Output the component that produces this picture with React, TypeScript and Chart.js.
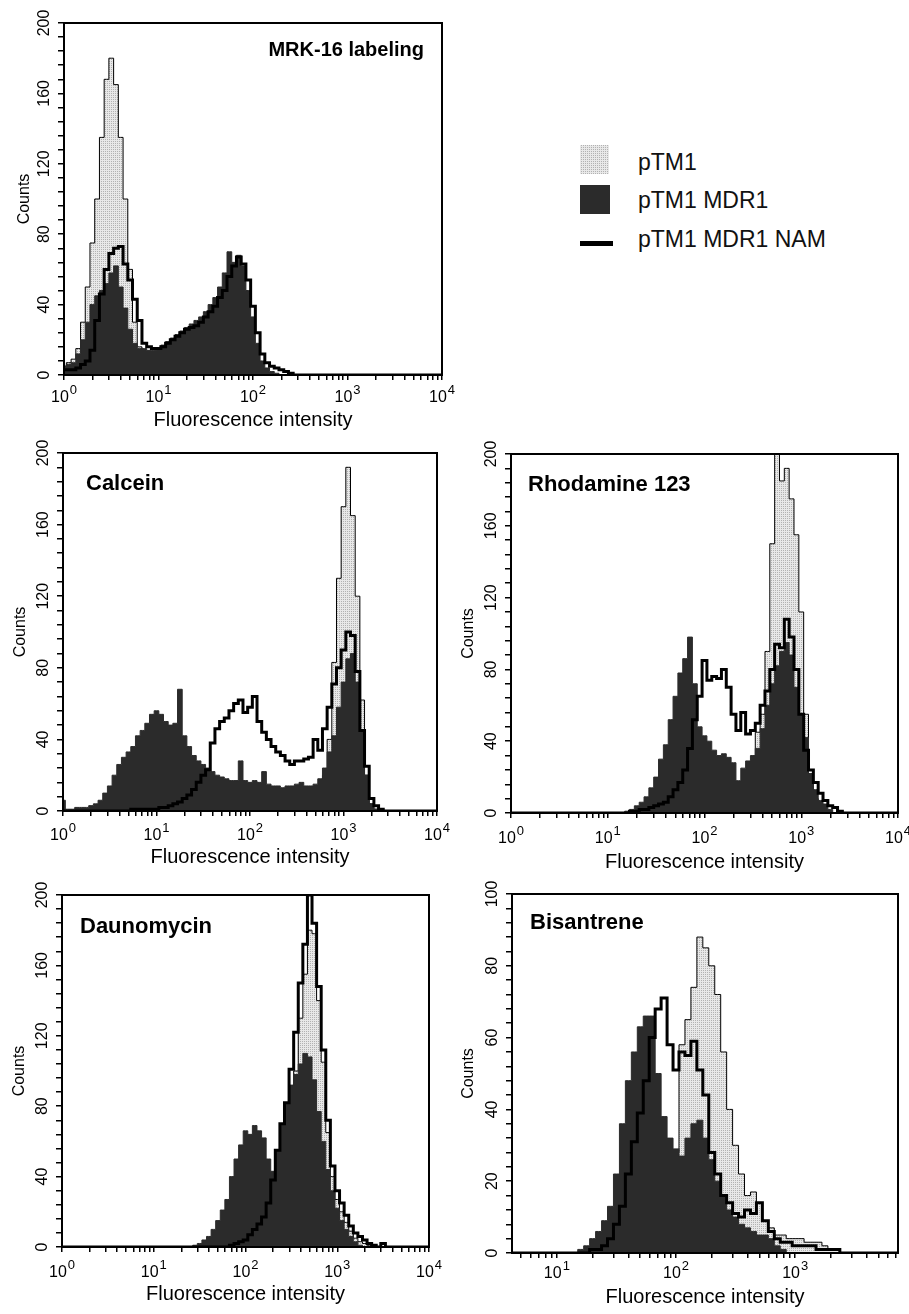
import React, { useEffect, useRef } from 'react';
import { Chart, registerables } from 'chart.js';

Chart.register(...registerables);

const FONT = '"Liberation Sans", Arial, Helvetica, sans-serif';
Chart.defaults.font.family = FONT;
Chart.defaults.color = '#000';

// ---------- data ----------
const SERIES = ['pTM1', 'pTM1 MDR1', 'pTM1 MDR1 NAM'];

// channel centres (fluorescence intensity), 20 per decade
const BINS = [1, 1.122, 1.259, 1.413, 1.585, 1.778, 1.995, 2.239, 2.512, 2.818,
  3.162, 3.548, 3.981, 4.467, 5.012, 5.623, 6.31, 7.079, 7.943, 8.913,
  10, 11.22, 12.59, 14.13, 15.85, 17.78, 19.95, 22.39, 25.12, 28.18,
  31.62, 35.48, 39.81, 44.67, 50.12, 56.23, 63.1, 70.79, 79.43, 89.13,
  100, 112.2, 125.9, 141.3, 158.5, 177.8, 199.5, 223.9, 251.2, 281.8,
  316.2, 354.8, 398.1, 446.7, 501.2, 562.3, 631, 707.9, 794.3, 891.3,
  1000, 1122, 1259, 1413, 1585, 1778, 1995, 2239, 2512, 2818,
  3162, 3548, 3981, 4467, 5012, 5623, 6310, 7079, 7943, 8913, 10000];

const X_TICKS_FULL = [1, 2, 3, 4, 5, 6, 7, 8, 9, 10, 20, 30, 40, 50, 60, 70, 80, 90,
  100, 200, 300, 400, 500, 600, 700, 800, 900, 1000, 2000, 3000, 4000, 5000, 6000, 7000, 8000, 9000, 10000];
const X_TICKS_BIS = [5, 6, 7, 8, 9, 10, 20, 30, 40, 50, 60, 70, 80, 90,
  100, 200, 300, 400, 500, 600, 700, 800, 900, 1000, 2000, 3000, 4000, 5000, 6000, 7000];
const X_LABEL_VALUES = [1, 10, 100, 1000, 10000];
const X_LABEL_BASE = '10';
const X_LABEL_EXP: Record<number, string> = { 1: '0', 10: '1', 100: '2', 1000: '3', 10000: '4' };

const Y_TICKS_200 = [0, 8, 16, 24, 32, 40, 48, 56, 64, 72, 80, 88, 96, 104, 112, 120, 128, 136, 144, 152, 160, 168, 176, 184, 192, 200];
const Y_LABELS_200 = [0, 40, 80, 120, 160, 200];
const Y_TICKS_100 = [0, 4, 8, 12, 16, 20, 24, 28, 32, 36, 40, 44, 48, 52, 56, 60, 64, 68, 72, 76, 80, 84, 88, 92, 96, 100];
const Y_LABELS_100 = [0, 20, 40, 60, 80, 100];

// MRK-16 labeling
const MRK_PTM1 = [5, 7, 9, 15, 30, 50, 75, 100, 135, 168,
  180, 165, 135, 100, 60, 30, 16, 10, 7, 5,
  4, 3, 2, 1, 1, 0, 0, 0, 0, 0,
  0, 0, 0, 0, 0, 0, 0, 0, 0, 0,
  0, 0, 0, 0, 0, 0, 0, 0, 0, 0,
  0, 0, 0, 0, 0, 0, 0, 0, 0, 0,
  0, 0, 0, 0, 0, 0, 0, 0, 0, 0,
  0, 0, 0, 0, 0, 0, 0, 0, 0, 0, 0];
const MRK_MDR1 = [5, 6, 7, 12, 20, 30, 40, 45, 48, 52,
  58, 62, 50, 38, 26, 18, 15, 15, 14, 14,
  15, 17, 19, 21, 23, 25, 27, 29, 31, 33,
  36, 40, 44, 50, 58, 70, 64, 68, 62, 48,
  33, 18, 8, 4, 2, 1, 0, 0, 0, 0,
  0, 0, 0, 0, 0, 0, 0, 0, 0, 0,
  0, 0, 0, 0, 0, 0, 0, 0, 0, 0,
  0, 0, 0, 0, 0, 0, 0, 0, 0, 0, 0];
const MRK_NAM = [3, 3, 3, 4, 6, 8, 14, 31, 46, 60,
  69, 72, 73, 63, 54, 43, 31, 18, 16, 15,
  15, 16, 18, 20, 22, 24, 26, 27, 28, 30,
  33, 36, 39, 44, 48, 56, 62, 67, 63, 54,
  39, 24, 12, 7, 5, 4, 3, 2, 1, 0,
  0, 0, 0, 0, 0, 0, 0, 0, 0, 0,
  0, 0, 0, 0, 0, 0, 0, 0, 0, 0,
  0, 0, 0, 0, 0, 0, 0, 0, 0, 0, 0];

// Calcein
const CAL_PTM1 = [0, 0, 0, 0, 0, 0, 0, 0, 0, 0,
  0, 0, 0, 0, 0, 0, 0, 0, 0, 0,
  0, 0, 0, 0, 0, 0, 0, 0, 0, 0,
  0, 0, 0, 0, 0, 0, 0, 0, 0, 0,
  0, 0, 0, 0, 0, 0, 0, 0, 0, 0,
  2, 3, 4, 5, 7, 10, 20, 40, 83, 130,
  170, 192, 165, 120, 62, 20, 4, 1, 0, 0,
  0, 0, 0, 0, 0, 0, 0, 0, 0, 0, 0];
const CAL_MDR1 = [6, 1, 1, 2, 2, 2, 3, 4, 6, 10,
  14, 20, 26, 30, 33, 36, 42, 45, 49, 54,
  56, 54, 50, 48, 49, 68, 42, 36, 31, 28,
  26, 24, 22, 20, 19, 18, 17, 17, 28, 17,
  16, 17, 16, 22, 15, 14, 14, 13, 14, 14,
  15, 16, 14, 14, 15, 18, 24, 33, 42, 58,
  72, 85, 88, 72, 45, 20, 4, 1, 0, 0,
  0, 0, 0, 0, 0, 0, 0, 0, 0, 0, 0];
const CAL_NAM = [0, 0, 0, 0, 0, 0, 0, 0, 0, 0,
  0, 0, 0, 0, 0, 1, 1, 1, 1, 1,
  1, 2, 2, 3, 4, 5, 7, 9, 12, 16,
  20, 23, 38, 46, 50, 52, 56, 60, 62, 55,
  58, 64, 50, 44, 40, 36, 33, 31, 28, 26,
  28, 28, 29, 30, 40, 34, 46, 58, 71, 80,
  90, 100, 98, 78, 45, 25, 7, 3, 1, 0,
  0, 0, 0, 0, 0, 0, 0, 0, 0, 0, 0];

// Rhodamine 123
const RHO_PTM1 = [0, 0, 0, 0, 0, 0, 0, 0, 0, 0,
  0, 0, 0, 0, 0, 0, 0, 0, 0, 0,
  0, 0, 0, 0, 0, 0, 0, 0, 0, 0,
  0, 0, 0, 0, 0, 0, 0, 0, 0, 0,
  0, 0, 0, 0, 0, 0, 0, 0, 0, 12,
  28, 45, 55, 90, 150, 200, 185, 192, 175, 155,
  112, 55, 20, 8, 3, 1, 0, 0, 0, 0,
  0, 0, 0, 0, 0, 0, 0, 0, 0, 0, 0];
const RHO_MDR1 = [0, 0, 0, 0, 0, 0, 0, 0, 0, 0,
  0, 0, 0, 0, 0, 0, 0, 0, 0, 0,
  0, 0, 0, 0, 1, 2, 4, 6, 9, 14,
  20, 30, 38, 52, 65, 78, 86, 98, 72, 48,
  43, 40, 35, 32, 33, 31, 28, 18, 25, 29,
  32, 36, 47, 60, 72, 82, 90, 95, 88, 70,
  55, 42, 22, 13, 7, 5, 2, 0, 0, 0,
  0, 0, 0, 0, 0, 0, 0, 0, 0, 0, 0];
const RHO_NAM = [0, 0, 0, 0, 0, 0, 0, 0, 0, 0,
  0, 0, 0, 0, 0, 0, 0, 0, 0, 0,
  0, 0, 0, 0, 0, 1, 1, 2, 2, 3,
  4, 5, 6, 9, 13, 17, 24, 36, 52, 65,
  85, 74, 76, 75, 80, 70, 55, 46, 56, 44,
  46, 50, 60, 68, 80, 94, 92, 108, 98, 80,
  55, 35, 24, 17, 11, 7, 4, 3, 1, 0,
  0, 0, 0, 0, 0, 0, 0, 0, 0, 0, 0];

// Daunomycin
const DAU_PTM1 = [0, 0, 0, 0, 0, 0, 0, 0, 0, 0,
  0, 0, 0, 0, 0, 0, 0, 0, 0, 0,
  0, 0, 0, 0, 0, 0, 0, 0, 0, 0,
  0, 0, 0, 0, 0, 0, 0, 0, 0, 0,
  0, 0, 0, 0, 3, 8, 14, 25, 40, 55,
  75, 100, 130, 155, 180, 178, 140, 105, 65, 40,
  27, 20, 14, 9, 5, 3, 2, 1, 0, 0,
  0, 0, 0, 0, 0, 0, 0, 0, 0, 0, 0];
const DAU_MDR1 = [0, 0, 0, 0, 0, 0, 0, 0, 0, 0,
  0, 0, 0, 0, 0, 0, 0, 0, 0, 0,
  0, 0, 0, 0, 0, 0, 0, 0, 0, 1,
  2, 4, 6, 10, 15, 21, 27, 40, 50, 58,
  66, 64, 69, 66, 62, 50, 43, 55, 70, 82,
  92, 98, 104, 110, 108, 95, 77, 60, 44, 32,
  22, 15, 10, 6, 3, 1, 0, 0, 0, 0,
  0, 0, 0, 0, 0, 0, 0, 0, 0, 0, 0];
const DAU_NAM = [0, 0, 0, 0, 0, 0, 0, 0, 0, 0,
  0, 0, 0, 0, 0, 0, 0, 0, 0, 0,
  0, 0, 0, 0, 0, 0, 0, 0, 0, 0,
  0, 0, 0, 0, 0, 0, 0, 1, 2, 3,
  4, 7, 10, 13, 17, 25, 38, 55, 70, 82,
  101, 122, 150, 172, 200, 184, 148, 112, 72, 46,
  32, 25, 18, 12, 8, 6, 4, 2, 1, 0,
  2, 0, 0, 0, 0, 0, 0, 0, 0, 0, 0];

// Bisantrene
const BIS_PTM1 = [0, 0, 0, 0, 0, 0, 0, 0, 0, 0,
  0, 0, 0, 0, 0, 0, 0, 0, 0, 0,
  0, 0, 0, 0, 0, 0, 0, 0, 0, 0,
  2, 4, 6, 9, 13, 18, 22, 26, 28, 28,
  28, 58, 65, 74, 88, 85, 80, 72, 56, 40,
  30, 22, 16, 17, 14, 9, 7, 5, 5, 4,
  4, 4, 3, 3, 3, 2, 1, 1, 0, 0,
  0, 0, 0, 0, 0, 0, 0, 0, 0, 0, 0];
const BIS_MDR1 = [0, 0, 0, 0, 0, 0, 0, 0, 0, 0,
  0, 0, 0, 0, 0, 0, 0, 0, 0, 0,
  0, 0, 0, 0, 1, 2, 4, 6, 9, 13,
  22, 36, 48, 56, 63, 66, 66, 50, 38, 32,
  29, 27, 32, 36, 37, 32, 26, 20, 16, 12,
  10, 8, 7, 6, 5, 5, 4, 2, 1, 0,
  0, 0, 0, 0, 0, 0, 0, 0, 0, 0,
  0, 0, 0, 0, 0, 0, 0, 0, 0, 0, 0];
const BIS_NAM = [0, 0, 0, 0, 0, 0, 0, 0, 0, 0,
  0, 0, 0, 0, 0, 0, 0, 0, 0, 0,
  0, 0, 0, 0, 0, 0, 1, 1, 2, 4,
  8, 13, 22, 31, 39, 48, 60, 68, 71, 58,
  51, 56, 55, 59, 51, 44, 28, 22, 16, 14,
  11, 10, 12, 11, 14, 9, 6, 4, 3, 3,
  2, 2, 2, 2, 1, 1, 1, 1, 0, 0,
  0, 0, 0, 0, 0, 0, 0, 0, 0, 0, 0];

// ---------- layout / style ----------
const DARK = '#2b2b2b';
const PAD = { left: 8, top: 22, right: 14, bottom: 4 };

type PanelCfg = {
  id: string; title: string;
  L: number; T: number; R: number; B: number;
  W: number; H: number; xLabY: number;
  xMin: number; xMax: number; xTicks: number[];
  yMax: number; yTicks: number[]; yLabels: number[];
  ptm1: number[]; mdr1: number[]; nam: number[];
  label: { dx: number; dy: number; align: 'left' | 'right'; size: number };
};

const PANELS: PanelCfg[] = [
  { id: 'mrk', title: 'MRK-16 labeling', L: 64, T: 23, R: 442, B: 375, W: 49, H: 57, xLabY: 27,
    xMin: 1, xMax: 10000, xTicks: X_TICKS_FULL, yMax: 200, yTicks: Y_TICKS_200, yLabels: Y_LABELS_200,
    ptm1: MRK_PTM1, mdr1: MRK_MDR1, nam: MRK_NAM, label: { dx: -18, dy: 33, align: 'right', size: 20 } },
  { id: 'cal', title: 'Calcein', L: 63, T: 453, R: 437, B: 811, W: 52, H: 58, xLabY: 29,
    xMin: 1, xMax: 10000, xTicks: X_TICKS_FULL, yMax: 200, yTicks: Y_TICKS_200, yLabels: Y_LABELS_200,
    ptm1: CAL_PTM1, mdr1: CAL_MDR1, nam: CAL_NAM, label: { dx: 23, dy: 37, align: 'left', size: 22 } },
  { id: 'rho', title: 'Rhodamine 123', L: 511, T: 454, R: 898, B: 813, W: 52, H: 61, xLabY: 30,
    xMin: 1, xMax: 10000, xTicks: X_TICKS_FULL, yMax: 200, yTicks: Y_TICKS_200, yLabels: Y_LABELS_200,
    ptm1: RHO_PTM1, mdr1: RHO_MDR1, nam: RHO_NAM, label: { dx: 17, dy: 37, align: 'left', size: 22 } },
  { id: 'dau', title: 'Daunomycin', L: 62, T: 895, R: 429, B: 1247, W: 52, H: 59, xLabY: 29.5,
    xMin: 1, xMax: 10000, xTicks: X_TICKS_FULL, yMax: 200, yTicks: Y_TICKS_200, yLabels: Y_LABELS_200,
    ptm1: DAU_PTM1, mdr1: DAU_MDR1, nam: DAU_NAM, label: { dx: 18, dy: 38, align: 'left', size: 22 } },
  { id: 'bis', title: 'Bisantrene', L: 512, T: 894, R: 898, B: 1253, W: 53, H: 56, xLabY: 25,
    xMin: 4.2, xMax: 7300, xTicks: X_TICKS_BIS, yMax: 100, yTicks: Y_TICKS_100, yLabels: Y_LABELS_100,
    ptm1: BIS_PTM1, mdr1: BIS_MDR1, nam: BIS_NAM, label: { dx: 18, dy: 35, align: 'left', size: 22 } },
];

const framePlugin = {
  id: 'frame',
  afterDatasetsDraw(chart: any) {
    const { ctx, chartArea: a } = chart;
    ctx.save();
    ctx.strokeStyle = '#000';
    ctx.lineWidth = 2;
    ctx.strokeRect(a.left, a.top, a.right - a.left, a.bottom - a.top);
    ctx.restore();
  },
};

const panelLabelPlugin = {
  id: 'panelLabel',
  afterDraw(chart: any, _args: any, opts: any) {
    if (!opts || !opts.text) return;
    const { ctx, chartArea: a } = chart;
    ctx.save();
    ctx.font = `bold ${opts.size}px ${FONT}`;
    ctx.fillStyle = '#000';
    ctx.textBaseline = 'alphabetic';
    ctx.textAlign = opts.align;
    const x = opts.align === 'right' ? a.right + opts.dx : a.left + opts.dx;
    ctx.fillText(opts.text, x, a.top + opts.dy);
    ctx.restore();
  },
};

// decade tick labels "10" with a raised exponent, placed by the x scale
const xLabelPlugin = {
  id: 'xLabels',
  afterDraw(chart: any, _args: any, opts: any) {
    const xs = chart.scales.x;
    const { ctx, chartArea: a } = chart;
    ctx.save();
    ctx.fillStyle = '#000';
    ctx.textBaseline = 'alphabetic';
    ctx.textAlign = 'left';
    for (const v of X_LABEL_VALUES) {
      if (v < xs.min * 0.999 || v > xs.max * 1.001) continue;
      const px = xs.getPixelForValue(v);
      const exp = X_LABEL_EXP[v];
      ctx.font = `16px ${FONT}`;
      const wb = ctx.measureText(X_LABEL_BASE).width;
      ctx.font = `13px ${FONT}`;
      const we = ctx.measureText(exp).width;
      const x0 = px - (wb + we + 1) / 2;
      const y = a.bottom + opts.dy;
      ctx.font = `16px ${FONT}`;
      ctx.fillText(X_LABEL_BASE, x0, y);
      ctx.font = `13px ${FONT}`;
      ctx.fillText(exp, x0 + wb + 1, y - 8);
    }
    ctx.restore();
  },
};

function Panel({ cfg }: { cfg: PanelCfg }) {
  const ref = useRef<HTMLCanvasElement>(null);
  const cx = cfg.L - cfg.W - PAD.left;
  const cy = cfg.T - PAD.top;
  const cw = PAD.left + cfg.W + (cfg.R - cfg.L) + PAD.right;
  const ch = PAD.top + (cfg.B - cfg.T) + cfg.H + PAD.bottom;

  useEffect(() => {
    const canvas = ref.current!;
    const ctx = canvas.getContext('2d')!;
    const tile = document.createElement('canvas');
    tile.width = 2; tile.height = 2;
    const t = tile.getContext('2d')!;
    t.fillStyle = '#e8e8e8'; t.fillRect(0, 0, 2, 2);
    t.fillStyle = '#b2b2b2'; t.fillRect(0, 0, 1, 1);
    const pattern = ctx.createPattern(tile, 'repeat')!;
    const pts = (arr: number[]) => BINS.map((x, i) => ({ x, y: arr[i] }));
    const common = { pointRadius: 0, pointHoverRadius: 0, stepped: 'middle' as const, tension: 0 };

    const chart = new Chart(canvas, {
      type: 'line',
      data: {
        datasets: [
          { ...common, label: SERIES[2], data: pts(cfg.nam), borderColor: '#000', borderWidth: 3, fill: false, order: 0 },
          { ...common, label: SERIES[1], data: pts(cfg.mdr1), borderColor: DARK, backgroundColor: DARK, borderWidth: 1, fill: 'origin', order: 1 },
          { ...common, label: SERIES[0], data: pts(cfg.ptm1), borderColor: '#000', backgroundColor: pattern as any, borderWidth: 1, fill: 'origin', order: 2 },
        ],
      },
      options: {
        responsive: false,
        animation: false,
        events: [],
        layout: { padding: PAD },
        plugins: {
          legend: { display: false },
          tooltip: { enabled: false },
          panelLabel: { text: cfg.title, ...cfg.label },
          xLabels: { dy: cfg.xLabY },
        } as any,
        scales: {
          x: {
            type: 'logarithmic',
            min: cfg.xMin,
            max: cfg.xMax,
            afterBuildTicks: (s: any) => { s.ticks = cfg.xTicks.map((v) => ({ value: v })); },
            afterFit: (s: any) => { s.height = cfg.H; s.paddingLeft = 0; s.paddingRight = 0; },
            ticks: { display: false, autoSkip: false, maxRotation: 0, minRotation: 0 },
            grid: { display: true, drawOnChartArea: false, drawTicks: true, tickLength: 5, color: '#000', lineWidth: 1.5 },
            border: { display: false },
            title: { display: true, text: 'Fluorescence intensity', font: { size: 20, family: FONT }, color: '#000', padding: { top: 0, bottom: 0 } },
          },
          y: {
            type: 'linear',
            min: 0,
            max: cfg.yMax,
            afterBuildTicks: (s: any) => { s.ticks = cfg.yTicks.map((v) => ({ value: v })); },
            afterFit: (s: any) => { s.width = cfg.W; s.paddingTop = 0; s.paddingBottom = 0; },
            ticks: {
              autoSkip: false, minRotation: 90, maxRotation: 90, crossAlign: 'center', padding: 0,
              font: { size: 16, family: FONT }, color: '#000',
              callback: (v: any) => (cfg.yLabels.includes(Number(v)) ? String(v) : ''),
            },
            grid: { display: true, drawOnChartArea: false, drawTicks: true, tickLength: 6, color: '#000', lineWidth: 1.5 },
            border: { display: false },
            title: { display: true, text: 'Counts', font: { size: 16, family: FONT }, color: '#000', padding: { top: 0, bottom: 0 } },
          },
        },
      } as any,
      plugins: [framePlugin, panelLabelPlugin, xLabelPlugin],
    });
    return () => chart.destroy();
  }, []);

  return (
    <canvas
      ref={ref}
      width={cw}
      height={ch}
      style={{ position: 'absolute', left: cx, top: cy, width: cw, height: ch, display: 'block' }}
    />
  );
}

function Legend() {
  const swatch = [
    { top: 145, height: 29, width: 29, bg: 'repeating-conic-gradient(#b2b2b2 0 25%, #e8e8e8 0 100%) 0 0 / 2px 2px' },
    { top: 185, height: 29, width: 30, bg: DARK },
    { top: 241, height: 5, width: 33, bg: '#000' },
  ];
  const textTop = [148.5, 186.7, 226];
  return (
    <>
      {SERIES.map((name, i) => (
        <React.Fragment key={name}>
          <div style={{ position: 'absolute', left: 580, top: swatch[i].top, width: swatch[i].width, height: swatch[i].height, background: swatch[i].bg }} />
          <div style={{ position: 'absolute', left: 638, top: textTop[i], fontSize: 23, lineHeight: '26px', height: 26, whiteSpace: 'nowrap', color: '#111', fontFamily: FONT }}>{name}</div>
        </React.Fragment>
      ))}
    </>
  );
}

export default function App() {
  return (
    <div style={{ position: 'absolute', left: 0, top: 0, width: 909, height: 1314, overflow: 'hidden', background: '#fff', fontFamily: FONT }}>
      {PANELS.map((p) => <Panel key={p.id} cfg={p} />)}
      <Legend />
    </div>
  );
}
